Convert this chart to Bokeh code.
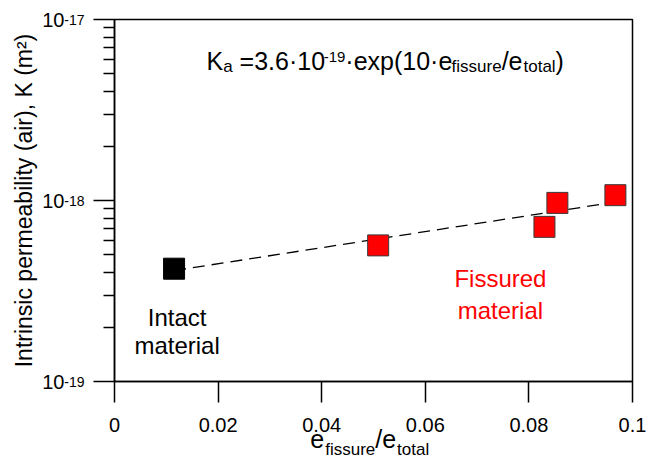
import math
from bokeh.plotting import figure
from bokeh.models import Range1d, FixedTicker, Label, CustomJSTickFormatter, LinearAxis, LogAxis
from bokeh.embed import file_html
from bokeh.resources import INLINE

# ---- data ----
intact_x = [0.0115]
intact_k = [4.2e-19]
fissured_x = [0.0509, 0.0830, 0.0855, 0.0967]
fissured_k = [5.65e-19, 7.15e-19, 9.7e-19, 1.07e-18]
fit_x = [0.0115, 0.0967]
fit_k = [4.1e-19, 9.8e-19]

x_ticks = [0, 0.02, 0.04, 0.06, 0.08, 0.1]
y_ticks = [1e-19, 1e-18, 1e-17]
y_tick_base = ["10", "10", "10"]
y_tick_exp = ["-19", "-18", "-17"]
y_minor = [m * 10.0 ** e for e in (-19, -18) for m in range(2, 10)]

FONT = "Liberation Sans"

W, H = 646, 467
B_LEFT, B_RIGHT, B_TOP, B_BOTTOM = 114, 14, 19, 86
PX_PER_X = (W - B_LEFT - B_RIGHT) / 0.1   # pixels per x data unit

# Arial / Liberation Sans advance widths (em)
CW = {"K": .667, "a": .556, " ": .278, "=": .584, "3": .556, ".": .278, "6": .556,
      "\u00b7": .278, "1": .556, "0": .556, "-": .333, "9": .556, "e": .556,
      "x": .5, "p": .556, "(": .333, ")": .333, "/": .278, "f": .278, "i": .222,
      "s": .5, "u": .556, "r": .333, "t": .278, "o": .556, "l": .222}


def tw(text, size):
    return sum(CW.get(c, 0.556) for c in text) * size


p = figure(width=W, height=H, y_axis_type="log",
           x_range=Range1d(0, 0.1), y_range=Range1d(1e-19, 1e-17),
           output_backend="svg", toolbar_location=None,
           min_border_left=B_LEFT, min_border_right=B_RIGHT,
           min_border_top=B_TOP, min_border_bottom=B_BOTTOM)
p.grid.visible = False
p.outline_line_color = "black"
p.outline_line_width = 1.5
p.background_fill_color = "white"
p.border_fill_color = "white"


def bare(ax):
    ax.axis_line_color = None
    ax.major_tick_line_color = None
    ax.minor_tick_line_color = None
    ax.major_tick_out = 0
    ax.major_tick_in = 0
    ax.minor_tick_out = 0
    ax.minor_tick_in = 0
    ax.major_label_text_font = FONT
    ax.major_label_text_color = "black"


xa = p.xaxis[0]
ya = p.yaxis[0]
xa.ticker = FixedTicker(ticks=x_ticks)
ya.ticker = FixedTicker(ticks=y_ticks, minor_ticks=y_minor)
for ax in (xa, ya):
    ax.axis_line_color = "black"
    ax.axis_line_width = 1.5
    ax.major_tick_line_color = "black"
    ax.major_tick_line_width = 1.5
    ax.major_tick_out = 21
    ax.major_tick_in = 0
    ax.major_label_text_font = FONT
    ax.major_label_text_color = "black"
ya.minor_tick_line_color = "black"
ya.minor_tick_line_width = 1.5
ya.minor_tick_out = 11
ya.minor_tick_in = 0
xa.minor_tick_line_color = None
xa.formatter = CustomJSTickFormatter(code="return tick.toFixed(2).replace(/\\.?0+$/, '');")
xa.major_label_text_font_size = "20px"
xa.major_label_standoff = 15

# exponents of the y tick labels (inner axis), "10" on an outer axis
ya.formatter = CustomJSTickFormatter(args=dict(labels=y_tick_exp), code="return labels[index];")
ya.major_label_text_font_size = "14px"
ya.major_label_standoff = 9

ya2 = LogAxis(ticker=FixedTicker(ticks=y_ticks),
              formatter=CustomJSTickFormatter(args=dict(labels=y_tick_base), code="return labels[index];"))
bare(ya2)
ya2.major_label_text_font_size = "20px"
ya2.major_label_standoff = -3
ya2.axis_label = "Intrinsic permeability (air), K (m\u00b2)"
ya2.axis_label_text_font = FONT
ya2.axis_label_text_font_size = "23px"
ya2.axis_label_text_font_style = "normal"
ya2.axis_label_text_color = "black"
ya2.axis_label_standoff = 2
p.add_layout(ya2, "left")

# x axis title e_fissure / e_total built from two text rows
F, S = 25, 17
title_start = 0.0378  # x position where the title starts
main_txt, main_pos, sub_txt, sub_pos = [], [], [], []
cur = 0.0
for text, size, gap in [("e", F, 0), ("fissure", S, 1), ("/e", F, 0), ("total", S, 1)]:
    cur += gap
    centre = title_start + (cur + tw(text, size) / 2) / PX_PER_X
    (main_txt if size == F else sub_txt).append(text)
    (main_pos if size == F else sub_pos).append(centre)
    cur += tw(text, size)

xa2 = LinearAxis(ticker=FixedTicker(ticks=main_pos),
                 formatter=CustomJSTickFormatter(args=dict(labels=main_txt), code="return labels[index];"))
bare(xa2)
xa2.major_label_text_font_size = f"{F}px"
xa2.major_label_standoff = -10
p.add_layout(xa2, "below")

xa3 = LinearAxis(ticker=FixedTicker(ticks=sub_pos),
                 formatter=CustomJSTickFormatter(args=dict(labels=sub_txt), code="return labels[index];"))
bare(xa3)
xa3.major_label_text_font_size = f"{S}px"
xa3.major_label_standoff = -16
p.add_layout(xa3, "below")

# fit line and points
p.line(fit_x, fit_k, line_color="black", line_width=1.3, line_dash="12 7")
p.scatter(intact_x, intact_k, marker="square", size=21, fill_color="black", line_color="black", line_width=1)
p.scatter(fissured_x, fissured_k, marker="square", size=21, fill_color="#FF0000", line_color="#3a3a3a", line_width=1)


def lab(text, x, y, size, dx=0, dy=0, align="left", color="black"):
    p.add_layout(Label(x=x, y=y, text=text, text_font=FONT,
                       text_font_size=f"{size}px", text_color=color, x_offset=dx, y_offset=dy,
                       text_align=align, text_baseline="alphabetic"))


def rich(pieces, x, y, dx0, dy_main):
    # pieces: (text, size, baseline shift in px (positive = down), gap before)
    dx = dx0
    for text, size, shift, gap in pieces:
        dx += gap
        lab(text, x, y, size, dx=dx, dy=dy_main - shift)
        dx += tw(text, size)


# formula
rich([("K", F, 0, 0), ("a", S, 6, 0), ("=3.6\u00b710", F, 0, 0.278 * F), ("-19", 15, -4, 0),
      ("\u00b7exp(10\u00b7e", F, 0, 0), ("fissure", S, 6, 2), ("/e", F, 0, 0),
      ("total", S, 6, 1), (")", F, 0, 0)],
     0, 1e-17, 92, -41)

# annotations
lab("Intact", intact_x[0], intact_k[0], 24, dx=3, dy=-49, align="center")
lab("material", intact_x[0], intact_k[0], 24, dx=3, dy=-77, align="center")
lab("Fissured", 0.0745, 3.7e-19, 24, align="center", color="#FF0000")
lab("material", 0.0745, 3.7e-19, 24, dy=-32, align="center", color="#FF0000")

open("out.html", "w").write(file_html(p, INLINE))
